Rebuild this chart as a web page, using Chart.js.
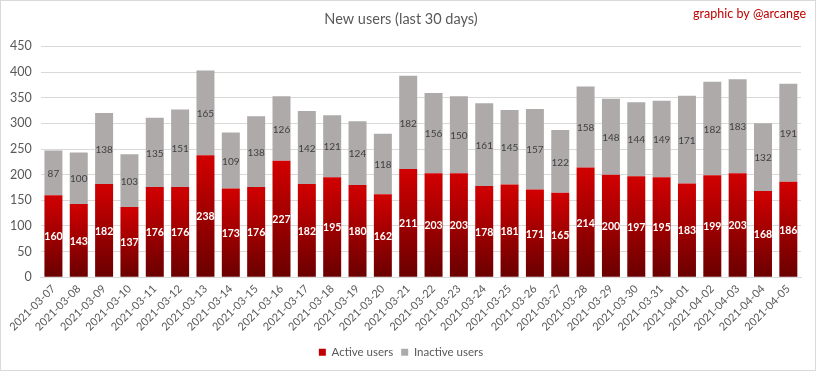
<!DOCTYPE html>
<html><head><meta charset="utf-8">
<script src="https://cdn.jsdelivr.net/npm/chart.js@4/dist/chart.umd.min.js"></script>
<style>
html,body{margin:0;padding:0;background:#fff}
#wrap{position:relative;width:816px;height:371px;box-sizing:border-box;border:1px solid #d9d9d9;background:#fff}
</style>
</head><body>
<div id="wrap"><canvas id="c"></canvas></div>
<script>
const dates = ["2021-03-07","2021-03-08","2021-03-09","2021-03-10","2021-03-11","2021-03-12","2021-03-13","2021-03-14","2021-03-15","2021-03-16","2021-03-17","2021-03-18","2021-03-19","2021-03-20","2021-03-21","2021-03-22","2021-03-23","2021-03-24","2021-03-25","2021-03-26","2021-03-27","2021-03-28","2021-03-29","2021-03-30","2021-03-31","2021-04-01","2021-04-02","2021-04-03","2021-04-04","2021-04-05"];
const activeUsers = [160,143,182,137,176,176,238,173,176,227,182,195,180,162,211,203,203,178,181,171,165,214,200,197,195,183,199,203,168,186];
const inactiveUsers = [87,100,138,103,135,151,165,109,138,126,142,121,124,118,182,156,150,161,145,157,122,158,148,144,149,171,182,183,132,191];
const yMax = 450, yStep = 50;

const FONT = "Lato, 'Open Sans', sans-serif";
const ACTIVE_SOLID = '#c00000';
const INACTIVE = '#aeaaaa';

function activeGradient(ctx) {
  const chart = ctx.chart;
  const ys = chart.scales.y;
  if (ctx.type !== 'data' || !ys || !ctx.parsed) return ACTIVE_SOLID;
  const top = ys.getPixelForValue(ctx.parsed.y);
  const base = ys.getPixelForValue(0);
  if (!isFinite(top) || !isFinite(base) || top === base) return ACTIVE_SOLID;
  const g = chart.ctx.createLinearGradient(0, top, 0, base);
  g.addColorStop(0, '#d20000');
  g.addColorStop(1, '#6a0000');
  return g;
}

const labelPlugin = {
  id: 'barLabels',
  afterDatasetsDraw(chart) {
    const c = chart.ctx;
    c.save();
    c.textAlign = 'center';
    c.textBaseline = 'middle';
    chart.data.datasets.forEach((ds, i) => {
      const meta = chart.getDatasetMeta(i);
      meta.data.forEach((el, j) => {
        const mid = (el.y + el.base) / 2;
        if (i === 0) { c.fillStyle = '#ffffff'; c.font = "bold 10.5px " + FONT; }
        else { c.fillStyle = '#404040'; c.font = "10px " + FONT; }
        c.fillText(String(ds.data[j]), el.x, mid + 1);
      });
    });
    c.restore();
  }
};

const creditPlugin = {
  id: 'credit',
  afterDraw(chart) {
    const c = chart.ctx;
    c.save();
    c.fillStyle = '#c00000';
    c.font = "12.5px " + FONT;
    c.textAlign = 'right';
    c.textBaseline = 'middle';
    c.fillText('graphic by @arcange', 805, 13);
    c.restore();
  }
};

new Chart(document.getElementById('c'), {
  type: 'bar',
  data: {
    labels: dates,
    datasets: [
      { label: 'Active users', data: activeUsers, backgroundColor: activeGradient, borderWidth: 0 },
      { label: 'Inactive users', data: inactiveUsers, backgroundColor: INACTIVE, borderWidth: 0 }
    ]
  },
  options: {
    responsive: true,
    maintainAspectRatio: false,
    animation: false,
    layout: { padding: { left: 0, right: 14, top: 0, bottom: 2 } },
    datasets: { bar: { categoryPercentage: 1.0, barPercentage: 0.71 } },
    plugins: {
      title: { display: true, text: 'New users (last 30 days)', color: '#595959', font: { family: FONT, size: 14.5, weight: 'normal' }, padding: { top: 10, bottom: 18 } },
      legend: {
        position: 'bottom',
        labels: {
          color: '#595959', font: { family: FONT, size: 11.5 }, boxWidth: 7, boxHeight: 7, padding: 8,
          generateLabels(chart) {
            return chart.data.datasets.map((ds, i) => ({
              text: ds.label,
              fillStyle: i === 0 ? ACTIVE_SOLID : INACTIVE,
              strokeStyle: i === 0 ? ACTIVE_SOLID : INACTIVE,
              lineWidth: 0,
              fontColor: '#595959',
              hidden: !chart.isDatasetVisible(i),
              datasetIndex: i
            }));
          }
        }
      },
      tooltip: { enabled: false }
    },
    scales: {
      x: {
        stacked: true,
        grid: { display: false, drawTicks: false },
        border: { color: '#d9d9d9' },
        ticks: { color: '#595959', font: { family: FONT, size: 11 }, maxRotation: 45, minRotation: 45, autoSkip: false, padding: 5 }
      },
      y: {
        stacked: true, min: 0, max: yMax,
        grid: { color: '#d9d9d9', drawTicks: false },
        border: { display: false },
        ticks: { stepSize: yStep, color: '#595959', font: { family: FONT, size: 12.5 }, padding: 9 }
      }
    }
  },
  plugins: [labelPlugin, creditPlugin]
});
</script>
</body></html>
